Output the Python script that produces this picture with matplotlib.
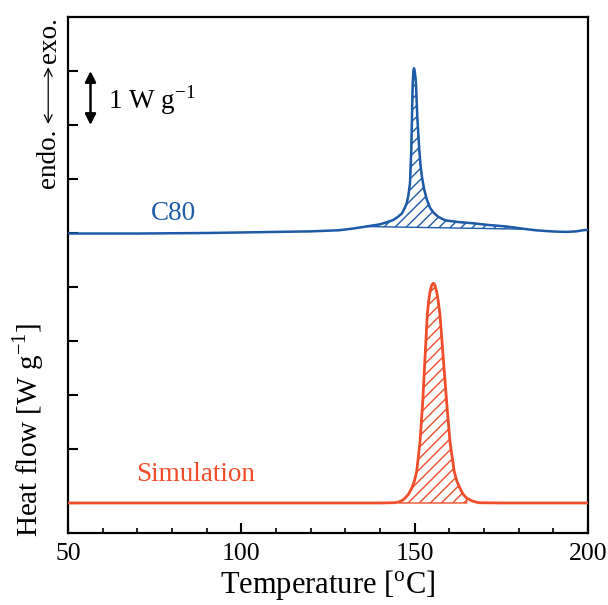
import numpy as np
import matplotlib
matplotlib.use("Agg")
import matplotlib.pyplot as plt

plt.rcParams['font.family'] = ['Liberation Serif', 'DejaVu Serif']
plt.rcParams['mathtext.fontset'] = 'custom'
plt.rcParams['mathtext.rm'] = 'Liberation Serif'
plt.rcParams['hatch.linewidth'] = 1.0

# C80 measured curve (offset by 5 W/g)
c80_t = [50, 70, 90, 110, 120, 128, 132, 136, 140, 142, 143.8, 145.0, 146.3,
         147.2, 147.7, 148.2, 148.65, 149.03, 149.23, 149.43, 149.65, 149.81,
         150.0, 150.2, 150.38, 150.76, 151.33, 151.7, 152.1, 152.7, 153.5,
         154.4, 155.4, 156.8, 158.3, 159.2, 163, 166.9, 171, 176.5, 180, 182.3,
         185, 188.1, 191, 193.9, 196.5, 198.5, 200]
c80_q = [4.99, 4.99, 5.0, 5.02, 5.03, 5.05, 5.08, 5.12, 5.16, 5.2, 5.24, 5.29, 5.36,
         5.47, 5.55, 5.70, 5.92, 6.54, 7.15, 7.77, 8.0, 8.05,
         8.0, 7.9, 7.77, 7.15, 6.54, 6.25, 6.04, 5.82, 5.62,
         5.47, 5.38, 5.30, 5.25, 5.23, 5.2, 5.18, 5.15, 5.12, 5.09, 5.07,
         5.05, 5.035, 5.025, 5.02, 5.03, 5.05, 5.06]
c80_range = (134.0, 182.3)

# simulation curve
sim_t = [50, 100, 140, 144.33, 145.5, 146.5, 147.21, 148.2, 149.14, 149.9, 150.58,
         151.54, 152.32, 152.98, 153.64, 154.0, 154.42, 154.9, 155.37, 155.8,
         156.35, 156.8, 157.31, 158.26, 159.24, 160.19, 161.43, 162.2, 163.08,
         164.0, 165.0, 166.5, 168.35, 175, 200]
sim_q = [0.0, 0.0, 0.0, 0.005, 0.02, 0.05, 0.09, 0.16, 0.27, 0.4, 0.58,
         1.13, 1.86, 2.68, 3.48, 3.72, 3.91, 4.03, 4.07, 4.04,
         3.91, 3.74, 3.48, 2.68, 1.86, 1.13, 0.58, 0.4, 0.27,
         0.16, 0.09, 0.04, 0.005, 0.0, 0.0]
sim_range = (145.5, 166.0)

blue = '#1d5aa8'
red = '#f04e2a'

fig = plt.figure(figsize=(6.08, 6.05), dpi=100)
ax = fig.add_axes([0.1118, 0.119, 0.8553, 0.8529])

ax.plot(c80_t, c80_q, color=blue, lw=1.8, zorder=3)
ax.plot(sim_t, sim_q, color=red, lw=2.0, zorder=3)

# hatched areas above a straight baseline
t = np.array(c80_t)
q = np.array(c80_q)
m = (t >= c80_range[0]) & (t <= c80_range[1])
tt, qq = t[m], q[m]
base = qq[0] + (qq[-1] - qq[0]) * (tt - tt[0]) / (tt[-1] - tt[0])
ax.fill_between(tt, base, qq, facecolor='none', edgecolor=blue, hatch='///', lw=1.0)

t = np.array(sim_t)
q = np.array(sim_q)
m = (t >= sim_range[0]) & (t <= sim_range[1])
ax.fill_between(t[m], 0.0, q[m], facecolor='none', edgecolor=red, hatch='///', lw=1.0)

ax.set_xlim(50, 200)
ax.set_ylim(-0.556, 9.0)
ax.set_xticks([50, 100, 150, 200])
ax.set_xticks(np.arange(50, 201, 10), minor=True)
ax.set_yticks(range(0, 9))
ax.set_yticklabels([])
ax.tick_params(axis='x', which='major', direction='in', length=7, width=1.5,
               labelsize=18.5, pad=7)
ax.tick_params(axis='x', which='minor', direction='in', length=3.5, width=1.2)
ax.tick_params(axis='y', which='major', direction='in', length=7, width=1.5)
for s in ax.spines.values():
    s.set_linewidth(1.6)

ax.set_xlabel(r'Temperature [$^{\mathregular{o}}$C]', fontsize=22, labelpad=2)
ax.set_ylabel(r'Heat flow [W g$^{\mathregular{-1}}$]', fontsize=21)
ax.yaxis.set_label_coords(-0.042, 0.2)

ax.text(80.3, 5.36, 'C80', color=blue, fontsize=19.5, ha='center', va='center')
ax.text(86.9, 0.52, 'Simulation', color=red, fontsize=19.5, ha='center', va='center')

# endo / exo indicator
ax.text(44.8, 8.57, 'exo.', rotation=90, fontsize=19.5, ha='center', va='center',
        clip_on=False)
ax.text(44.4, 6.39, 'endo.', rotation=90, fontsize=19.5, ha='center', va='center',
        clip_on=False)
ax.annotate('', xy=(44.3, 8.07), xytext=(44.3, 7.02), xycoords='data',
            annotation_clip=False,
            arrowprops=dict(arrowstyle='<->', lw=0.9, color='black',
                            mutation_scale=14, shrinkA=0, shrinkB=0))

# 1 W/g scale bar
ax.annotate('', xy=(56.5, 8.0), xytext=(56.5, 7.0),
            arrowprops=dict(arrowstyle='<|-|>', lw=1.8, color='black',
                            mutation_scale=16, shrinkA=0, shrinkB=0))
ax.text(61.5, 7.46, r'1 W g$^{\mathregular{-1}}$', fontsize=19.5, ha='left', va='center')

fig.savefig('out.png', dpi=100)
